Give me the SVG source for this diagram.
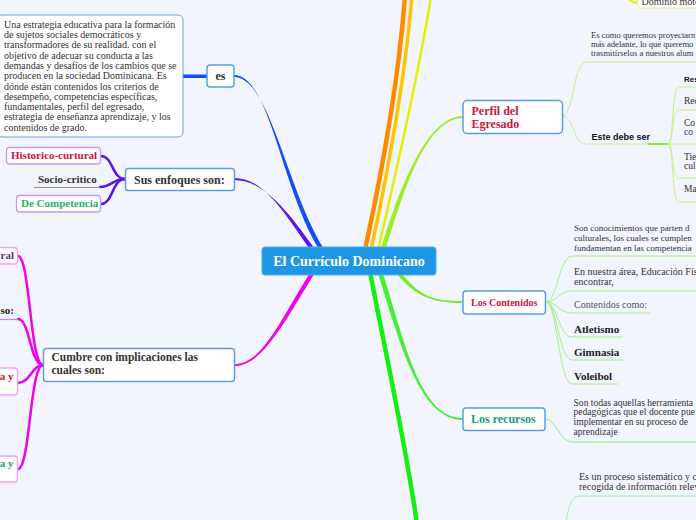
<svg xmlns="http://www.w3.org/2000/svg" width="696" height="520" viewBox="0 0 696 520">
<defs>
<style>
.bg{fill:#f2f5fe}
.box{fill:#ffffff;stroke:#5b9cf0;stroke-width:1.5}
.lav{fill:#ffffff;stroke:#c49af8;stroke-width:1.3}
.pink{fill:#ffffff;stroke:#eea4f8;stroke-width:1.3}
.tb{fill:#ffffff;stroke:#6c9cf0;stroke-width:1}
.s{font-family:"Liberation Serif","Times New Roman",serif;fill:#333333}
.b{font-weight:bold}
.sans{font-family:"Liberation Sans",Arial,sans-serif;font-weight:bold;fill:#111111}
.thin{fill:none;stroke-width:1}
.mid{fill:none;stroke-width:2.5;stroke-linecap:round}
</style>
</defs>
<rect class="bg" x="0" y="0" width="696" height="520"/>

<g id="connectors">
  <path d="M365,250 C378,190 398,90 405,-4" fill="none" stroke="#ff8a00" stroke-width="4.5"/>
  <path d="M371,250 C384,190 404,90 412,-4" fill="none" stroke="#ffc400" stroke-width="3.5"/>
  <path d="M378,250 C393,185 418,80 431,-4" fill="none" stroke="#e4f000" stroke-width="2.5"/>
  <path d="M626,-3 C631,1 633,3 638,3" fill="none" stroke="#e4f000" stroke-width="2"/>
  <path d="M234,75 C270,75 281.5,190 319.5,250 L324.5,250 C286.5,190 270,77 234,77 Z" fill="#1450f0"/>
  <rect x="183" y="74.5" width="25" height="3.5" fill="#1450f0"/>
  <path d="M234,178 C265,178 285.5,215 310.5,250 L315.5,250 C290.5,215 265,180 234,180 Z" fill="#5c14ec"/>
  <path d="M234,364 C262,364 277.5,325 310.5,272 L315.5,272 C282.5,325 262,366 234,366 Z" fill="#f000f0"/>
  <path d="M463,116 C425,116 397.5,195 380.5,250 L385.5,250 C402.5,195 425,118 463,118 Z" fill="#a0ee22"/>
  <path d="M463,301 C435,301 420.5,298 400.5,272 L395.5,272 C415.5,298 435,303 463,303 Z" fill="#74ee22"/>
  <path d="M463,418 C420,418 405.5,345 382.5,272 L377.5,272 C400.5,345 420,420 463,420 Z" fill="#44ee33"/>
  <path d="M370,272 C385,350 405,440 417,524" fill="none" stroke="#12f012" stroke-width="4.5"/>
  <path class="mid" stroke="#5c14ec" d="M125,179 C112,179 113,156 101,156"/>
  <path class="mid" stroke="#5c14ec" d="M125,179 C112,179 112,187 100,187"/>
  <path class="mid" stroke="#5c14ec" d="M125,179 C112,179 113,204 101,204"/>
  <line x1="34" y1="187.5" x2="100" y2="187.5" stroke="#a47cf2" stroke-width="1"/>
  <path class="mid" stroke="#f000f0" d="M43,365 C30,365 30,256 18,256"/>
  <path class="mid" stroke="#f000f0" d="M43,365 C30,365 30,319 18,319"/>
  <line x1="-2" y1="319.5" x2="18" y2="319.5" stroke="#f070f0" stroke-width="1.2"/>
  <path class="mid" stroke="#f000f0" d="M43,365 C32,365 30,383 18,383"/>
  <path class="mid" stroke="#f000f0" d="M43,365 C30,365 30,469 18,469"/>
  <path class="thin" stroke="#c6f27e" d="M562,116 C574,116 573,62 586,62 L696,62"/>
  <path class="thin" stroke="#c6f27e" d="M562,116 C574,116 573,144 586,144 L696,144"/>
  <line x1="648" y1="144" x2="668" y2="144" stroke="#8ee62a" stroke-width="2"/>
  <path class="thin" stroke="#c6f27e" d="M668,144 C674,144 671,87 679,87 L696,87"/>
  <path class="thin" stroke="#c6f27e" d="M668,144 C674,144 671,110 679,110 L696,110"/>
  <path class="thin" stroke="#c6f27e" d="M668,144 C674,144 671,178 679,178 L696,178"/>
  <path class="thin" stroke="#c6f27e" d="M668,144 C674,144 671,202 679,202 L696,202"/>
  <path class="thin" stroke="#a6f07e" d="M546,302 C557,302 559,256 572,256 L696,256"/>
  <path class="thin" stroke="#a6f07e" d="M546,302 C557,302 559,291 572,291 L696,291"/>
  <path class="thin" stroke="#a6f07e" d="M546,302 C557,302 559,313 572,313 L651,313"/>
  <path class="thin" stroke="#a6f07e" d="M546,302 C557,302 559,337 572,337 L623,337"/>
  <path class="thin" stroke="#a6f07e" d="M546,302 C557,302 559,360 572,360 L623,360"/>
  <path class="thin" stroke="#a6f07e" d="M546,302 C557,302 559,384 572,384 L618,384"/>
  <path class="thin" stroke="#90ee7e" d="M545,419 C557,419 559,442 572,442 L696,442"/>
  <path class="thin" stroke="#9cf0a4" d="M566,522 C569,505 571,496 581,496 L696,496"/>
</g>

<g id="center">
  <rect x="262" y="247" width="174" height="28" rx="3" fill="#1d97e3" stroke="#4aaef0" stroke-width="1"/>
  <text x="349" y="266" text-anchor="middle" class="s b" style="fill:#ffffff;font-size:14px">El Currículo Dominicano</text>
</g>

<g id="def-text">
  <rect class="tb" x="-3" y="15" width="186" height="122" rx="5"/>
  <text class="s" style="font-size:10px">
    <tspan x="4" y="27.5">Una estrategia educativa para la formación</tspan>
    <tspan x="4" y="37.8">de sujetos sociales democráticos y</tspan>
    <tspan x="4" y="48.1">transformadores de su realidad. con el</tspan>
    <tspan x="4" y="58.5">objetivo de adecuar su conducta a las</tspan>
    <tspan x="4" y="68.8">demandas y desafíos de los cambios que se</tspan>
    <tspan x="4" y="79.1">producen en la sociedad Dominicana. Es</tspan>
    <tspan x="4" y="89.5">dónde están contenidos los criterios de</tspan>
    <tspan x="4" y="99.8">desempeño, competencias específicas,</tspan>
    <tspan x="4" y="110.1">fundamentales, perfil del egresado,</tspan>
    <tspan x="4" y="120.4">estrategia de enseñanza aprendizaje, y los</tspan>
    <tspan x="4" y="130.7">contenidos de grado.</tspan>
  </text>
</g>

<g id="es">
  <rect class="box" x="207" y="65" width="27" height="22" rx="3"/>
  <text x="220.5" y="80" text-anchor="middle" class="s b" style="font-size:12px">es</text>
</g>

<g id="enfoques">
  <rect class="box" x="125.5" y="168.5" width="109" height="22" rx="3"/>
  <text x="134" y="183.5" class="s b" style="font-size:12px">Sus enfoques son:</text>
</g>
<g id="historico">
  <rect class="lav" x="6.5" y="147.5" width="94" height="16.5" rx="3"/>
  <text x="11" y="158.5" class="s b" style="font-size:11px;fill:#d0143c">Historico-curtural</text>
</g>
<g id="socio">
  <text x="38" y="182.7" class="s b" style="font-size:11px;fill:#333333">Socio-critico</text>
</g>
<g id="competencia">
  <rect class="lav" x="16.5" y="195.5" width="84" height="16.5" rx="3"/>
  <text x="21" y="206.5" class="s b" style="font-size:11px;fill:#1fb36a">De Competencia</text>
</g>

<g id="cumbre">
  <rect class="box" x="43.5" y="348.5" width="191" height="33" rx="3"/>
  <text class="s b" style="font-size:11.5px">
    <tspan x="51.5" y="361">Cumbre con implicaciones las</tspan>
    <tspan x="51.5" y="374">cuales son:</tspan>
  </text>
</g>
<g id="c-ral">
  <rect class="pink" x="-60" y="247.5" width="77.5" height="16.5" rx="3"/>
  <text x="14" y="259" text-anchor="end" class="s b" style="font-size:11px;fill:#6a2c96">ral</text>
</g>
<g id="c-so">
  <text x="14" y="314" text-anchor="end" class="s b" style="font-size:11px;fill:#222222">so:</text>
</g>
<g id="c-ay1">
  <rect class="pink" x="-60" y="368" width="77.5" height="27" rx="3"/>
  <text x="13.5" y="379.5" text-anchor="end" class="s b" style="font-size:11px;fill:#d0143c">a y</text>
</g>
<g id="c-ay2">
  <rect class="pink" x="-60" y="456" width="77.5" height="26" rx="3"/>
  <text x="13.5" y="467" text-anchor="end" class="s b" style="font-size:11px;fill:#1aa860">a y</text>
</g>

<g id="dominio">
  <rect x="637.5" y="-12" width="80" height="20" rx="3" fill="#ffffff" stroke="#e2f07a" stroke-width="1"/>
  <text x="641.5" y="5" class="s" style="font-size:10px">Dominio moto</text>
</g>

<g id="perfil">
  <rect class="box" x="463" y="100.5" width="99.5" height="33" rx="4"/>
  <text class="s b" style="font-size:12px;fill:#d0143c">
    <tspan x="471.5" y="114.5">Perfil del</tspan>
    <tspan x="471.5" y="127.5">Egresado</tspan>
  </text>
</g>
<g id="perfil-def">
  <text class="s" style="font-size:8.6px">
    <tspan x="591" y="37.5">Es como queremos proyectarn</tspan>
    <tspan x="591" y="46.5">más adelante, lo que queremo</tspan>
    <tspan x="591" y="55.5">trasmitírselos a nuestros alum</tspan>
  </text>
</g>
<g id="este">
  <text x="591.5" y="139.5" class="sans" style="font-size:9px">Este debe ser</text>
</g>
<g id="p-res"><text x="684" y="82" class="sans" style="font-size:8px">Res</text></g>
<g id="p-rec"><text x="684" y="104" class="s" style="font-size:9.5px">Rec</text></g>
<g id="p-co"><text class="s" style="font-size:9.5px"><tspan x="684" y="125.5">Co</tspan><tspan x="684" y="135">co</tspan></text></g>
<g id="p-tie"><text class="s" style="font-size:9.5px"><tspan x="684" y="160">Tie</tspan><tspan x="684" y="169">cul</tspan></text></g>
<g id="p-ma"><text x="684" y="192" class="s" style="font-size:9.5px">Ma</text></g>

<g id="contenidos">
  <rect class="box" x="463" y="291" width="82.5" height="23" rx="3"/>
  <text x="471" y="305.5" class="s b" style="font-size:10px;fill:#d0143c">Los Contenidos</text>
</g>
<g id="cont-def">
  <text class="s" style="font-size:9px">
    <tspan x="574" y="230.5">Son conocimientos que parten d</tspan>
    <tspan x="574" y="240.5">culturales, los cuales se cumplen</tspan>
    <tspan x="574" y="250.5">fundamentan en las competencia</tspan>
  </text>
</g>
<g id="cont-area">
  <text class="s" style="font-size:10px">
    <tspan x="574" y="275">En nuestra área, Educación Fís</tspan>
    <tspan x="574" y="285">encontrar,</tspan>
  </text>
</g>
<g id="cont-como"><text x="574" y="308" class="s" style="font-size:10px;fill:#555555">Contenidos como:</text></g>
<g id="atletismo"><text x="574" y="332.5" class="s b" style="font-size:11px;fill:#222222">Atletismo</text></g>
<g id="gimnasia"><text x="574" y="355.5" class="s b" style="font-size:11px;fill:#222222">Gimnasia</text></g>
<g id="voleibol"><text x="574" y="379.5" class="s b" style="font-size:11px;fill:#222222">Voleibol</text></g>

<g id="recursos">
  <rect class="box" x="463" y="408" width="82" height="22.5" rx="3"/>
  <text x="471" y="423" class="s b" style="font-size:12px;fill:#17a07a">Los recursos</text>
</g>
<g id="rec-def">
  <text class="s" style="font-size:9.6px">
    <tspan x="573.5" y="405.5">Son todas aquellas herramienta</tspan>
    <tspan x="573.5" y="415.2">pedagógicas que el docente pue</tspan>
    <tspan x="573.5" y="424.8">implementar en su proceso de</tspan>
    <tspan x="573.5" y="434.5">aprendizaje</tspan>
  </text>
</g>
<g id="eval-def">
  <text class="s" style="font-size:10px">
    <tspan x="579" y="479.5">Es un proceso sistemático y co</tspan>
    <tspan x="579" y="489.5">recogida de información relev</tspan>
  </text>
</g>
</svg>
